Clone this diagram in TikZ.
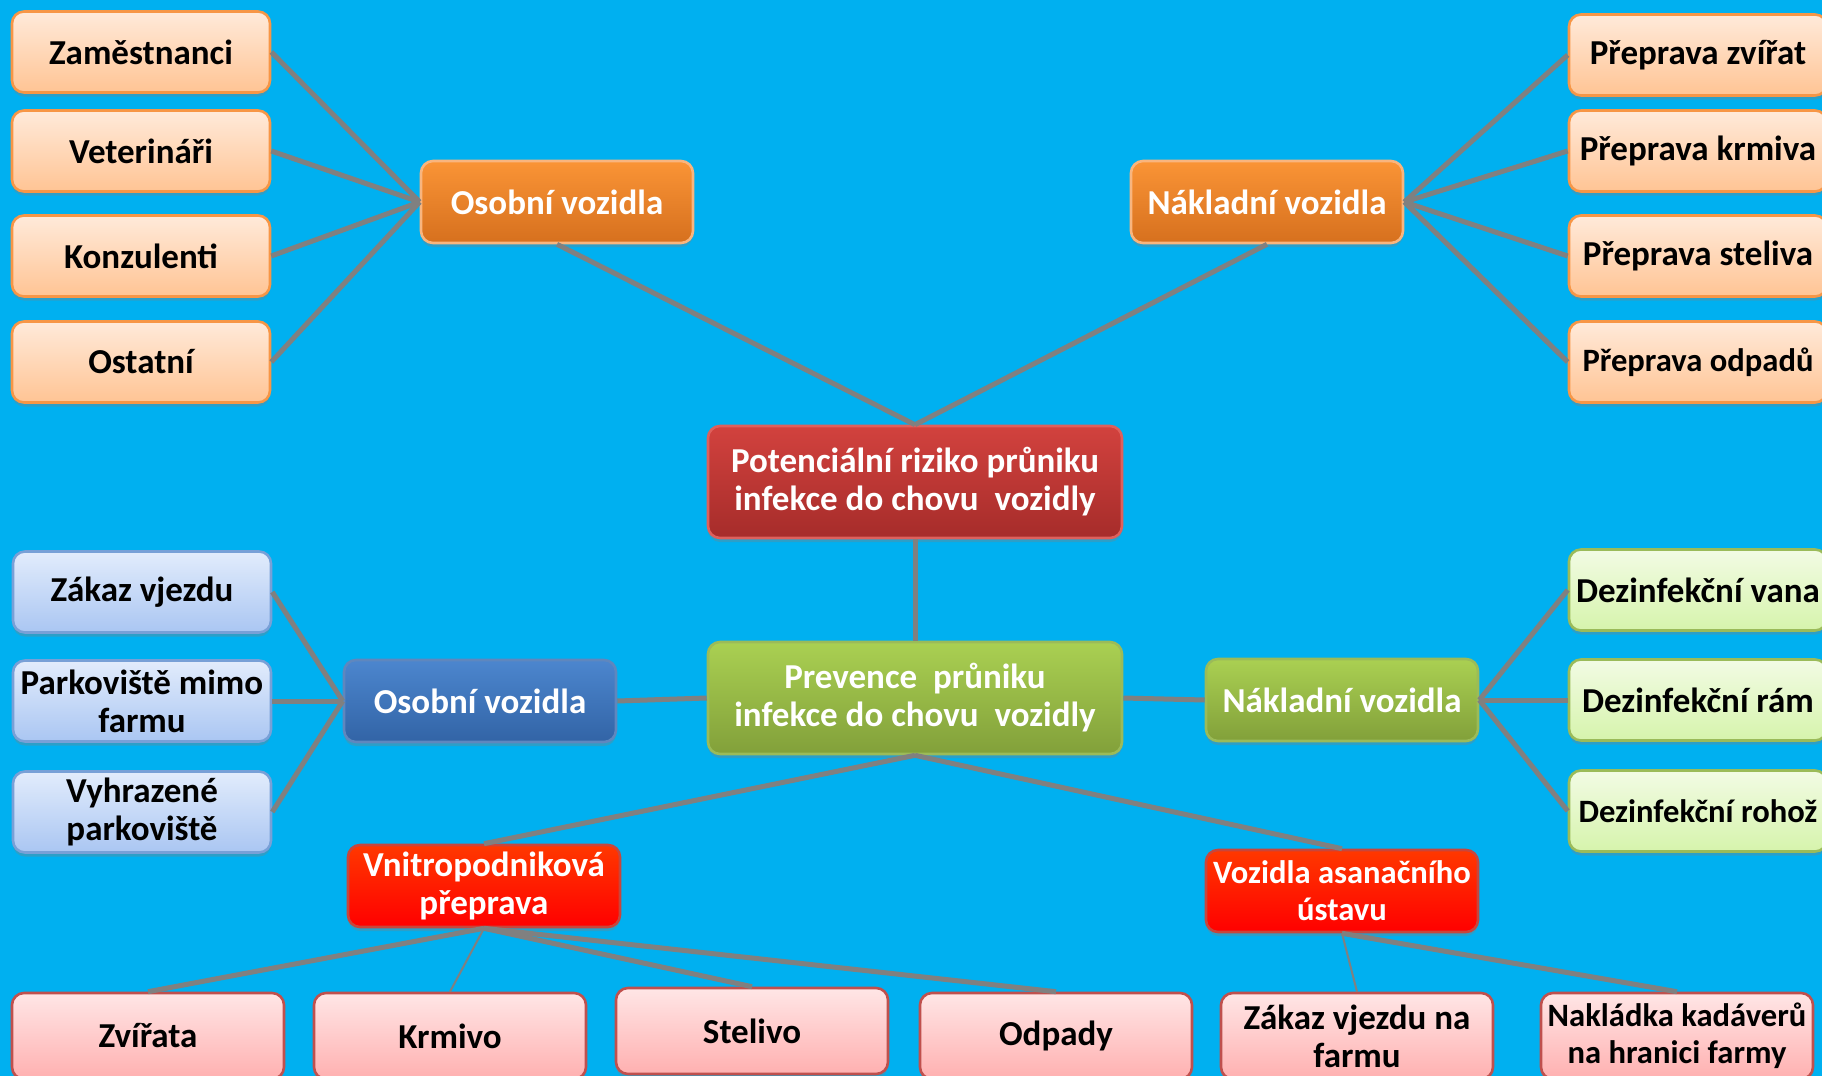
\documentclass[tikz,border=0pt]{standalone}
\usepackage{fontspec}
\setmainfont{Carlito}
\usetikzlibrary{shadows}
\definecolor{vz-sky}{RGB}{0, 176, 240}
\definecolor{vz-line}{RGB}{128, 128, 128}
\definecolor{vz-peach-top}{RGB}{255, 234, 218}
\definecolor{vz-peach-bot}{RGB}{255, 196, 148}
\definecolor{vz-orange}{RGB}{247, 150, 70}
\definecolor{vz-orange-top}{RGB}{250, 148, 54}
\definecolor{vz-orange-bot}{RGB}{214, 112, 30}
\definecolor{vz-red-top}{RGB}{210, 66, 62}
\definecolor{vz-red-bot}{RGB}{166, 44, 42}
\definecolor{vz-red-edge}{RGB}{222, 96, 92}
\definecolor{vz-green-top}{RGB}{170, 208, 82}
\definecolor{vz-green-bot}{RGB}{130, 160, 58}
\definecolor{vz-green-edge}{RGB}{155, 187, 89}
\definecolor{vz-ice-top}{RGB}{226, 236, 252}
\definecolor{vz-ice-bot}{RGB}{170, 198, 242}
\definecolor{vz-ice-edge}{RGB}{120, 160, 215}
\definecolor{vz-blue-top}{RGB}{76, 134, 206}
\definecolor{vz-blue-bot}{RGB}{50, 100, 166}
\definecolor{vz-blue-edge}{RGB}{95, 135, 190}
\definecolor{vz-lime-top}{RGB}{242, 251, 228}
\definecolor{vz-lime-bot}{RGB}{214, 244, 172}
\definecolor{vz-alarm-top}{RGB}{255, 56, 0}
\definecolor{vz-alarm-bot}{RGB}{255, 0, 0}
\definecolor{vz-alarm-edge}{RGB}{200, 70, 60}
\definecolor{vz-rose-top}{RGB}{255, 230, 230}
\definecolor{vz-rose-bot}{RGB}{255, 176, 176}
\definecolor{vz-rose-edge}{RGB}{192, 80, 77}

\begin{document}
\begin{tikzpicture}[x=0.5pt, y=-0.5pt,
    box/.style={rectangle, rounded corners=6pt, line width=1.3pt, align=center,
        font=\fontsize{17.5}{19}\selectfont\bfseries, inner sep=1pt,
        drop shadow={shadow xshift=0pt, shadow yshift=-2pt, opacity=0.35}},
    tight/.style={font=\fontsize{16.3}{18.5}\selectfont\bfseries},
    leaf/.style={box, minimum width=129pt, minimum height=40.5pt},
    hub/.style={box, minimum width=136pt, minimum height=41pt, text=white},
    core/.style={box, minimum width=207pt, minimum height=56pt, text=white},
    foot/.style={box, minimum width=136pt, minimum height=43pt},
    peach/.style={top color=vz-peach-top, bottom color=vz-peach-bot, draw=vz-orange},
    amber/.style={top color=vz-orange-top, bottom color=vz-orange-bot, draw=vz-orange!70!white},
    ice/.style={top color=vz-ice-top, bottom color=vz-ice-bot, draw=vz-ice-edge},
    navy/.style={top color=vz-blue-top, bottom color=vz-blue-bot, draw=vz-blue-edge},
    lime/.style={top color=vz-lime-top, bottom color=vz-lime-bot, draw=vz-green-edge},
    olive/.style={top color=vz-green-top, bottom color=vz-green-bot, draw=vz-green-edge},
    alarm/.style={top color=vz-alarm-top, bottom color=vz-alarm-bot, draw=vz-alarm-edge, text=white},
    rose/.style={top color=vz-rose-top, bottom color=vz-rose-bot, draw=vz-rose-edge},
    link/.style={draw=vz-line, line width=2.5pt},
    thinlink/.style={draw=vz-line, line width=1pt}]
    \useasboundingbox (0,0) rectangle (1822,1076);
    \clip (0,0) rectangle (1822,1076);
    \fill[vz-sky] (0,0) rectangle (1822,1076);

    % hlavni uzly
    \node[core, top color=vz-red-top, bottom color=vz-red-bot, draw=vz-red-edge] (risk) at (915,482) {Potenciální riziko průniku\\infekce do chovu \ vozidly};
    \node[core, olive] (prev) at (915,698) {Prevence \ průniku\\infekce do chovu \ vozidly};

    % riziko
    \node[hub, amber] (riskcar) at (557,202) {Osobní vozidla};
    \node[hub, amber] (risktruck) at (1267,202) {Nákladní vozidla};
    \node[leaf, peach] (staff) at (141,52) {Zaměstnanci};
    \node[leaf, peach] (vets) at (141,151) {Veterináři};
    \node[leaf, peach] (consult) at (141,256) {Konzulenti};
    \node[leaf, peach] (others) at (141,362) {Ostatní};
    \node[leaf, peach] (animals) at (1698,55) {Přeprava zvířat};
    \node[leaf, peach] (feed) at (1698,151) {Přeprava krmiva};
    \node[leaf, peach] (litter) at (1698,256) {Přeprava steliva};
    \node[leaf, peach, tight] (waste) at (1698,362) {Přeprava odpadů};

    % prevence
    \node[hub, navy] (prevcar) at (480,701) {Osobní vozidla};
    \node[hub, olive] (prevtruck) at (1342,700) {Nákladní vozidla};
    \node[leaf, ice] (ban) at (142,592) {Zákaz vjezdu};
    \node[leaf, ice] (park) at (142,701) {Parkoviště mimo\\farmu};
    \node[leaf, ice] (reserved) at (142,812) {Vyhrazené\\parkoviště};
    \node[leaf, lime] (tub) at (1698,590) {Dezinfekční vana};
    \node[leaf, lime] (frame) at (1698,700) {Dezinfekční rám};
    \node[leaf, lime, tight] (mat) at (1698,811) {Dezinfekční rohož};
    \node[hub, alarm] (internal) at (484,886) {Vnitropodniková\\přeprava};
    \node[hub, alarm, tight] (rendering) at (1342,891) {Vozidla asanačního\\ústavu};
    \node[foot, rose] (zvirata) at (148,1036) {Zvířata};
    \node[foot, rose] (krmivo) at (450,1036) {Krmivo};
    \node[foot, rose] (stelivo) at (752,1031) {Stelivo};
    \node[foot, rose] (odpady) at (1056,1036) {Odpady};
    \node[foot, rose] (noentry) at (1357,1036) {Zákaz vjezdu na\\farmu};
    \node[foot, rose, tight] (carcass) at (1677,1036) {Nakládka kadáverů\\na hranici farmy};

    % spojnice
    \foreach \n in {staff, vets, consult, others}
        \draw[link] (\n.east) -- (riskcar.west);
    \foreach \n in {animals, feed, litter, waste}
        \draw[link] (risktruck.east) -- (\n.west);
    \draw[link] (riskcar.south) -- (risk.north);
    \draw[link] (risktruck.south) -- (risk.north);
    \draw[link] (risk.south) -- (prev.north);
    \draw[link] (prev.west) -- (prevcar.east);
    \foreach \n in {ban, park, reserved}
        \draw[link] (prevcar.west) -- (\n.east);
    \draw[link] (prev.east) -- (prevtruck.west);
    \foreach \n in {tub, frame, mat}
        \draw[link] (prevtruck.east) -- (\n.west);
    \draw[link] (prev.south) -- (internal.north);
    \draw[link] (prev.south) -- (rendering.north);
    \foreach \n in {zvirata, stelivo, odpady}
        \draw[link] (internal.south) -- (\n.north);
    \draw[thinlink] (internal.south) -- (krmivo.north);
    \draw[thinlink] (rendering.south) -- (noentry.north);
    \draw[link] (rendering.south) -- (carcass.north);
\end{tikzpicture}
\end{document}
